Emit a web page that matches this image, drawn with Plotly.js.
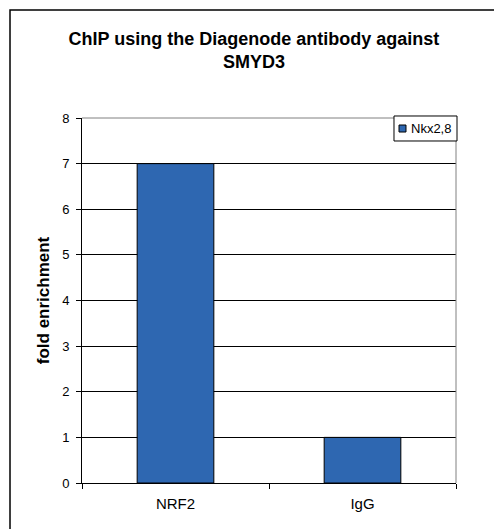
<!DOCTYPE html>
<html>
<head>
<meta charset="utf-8">
<script src="https://cdn.plot.ly/plotly-3.0.1.min.js"></script>
<style>
html,body{margin:0;padding:0;background:#fff;}
#chart{width:494px;height:529px;}
</style>
</head>
<body>
<div id="chart"></div>
<script>
const categories = ["NRF2", "IgG"];
const seriesName = "Nkx2,8";
const values = [7, 1];
const yTicks = [0, 1, 2, 3, 4, 5, 6, 7, 8];

const FONT = "Liberation Sans, Arial, sans-serif";
const BAR_COLOR = "#2e67b1";

const trace = {
  type: "bar",
  x: categories,
  y: values,
  name: seriesName,
  marker: {color: BAR_COLOR, line: {color: "#000", width: 1}},
  showlegend: false
};

const layout = {
  width: 494,
  height: 529,
  margin: {l: 82, r: 38, t: 118, b: 46},
  paper_bgcolor: "#fff",
  plot_bgcolor: "#fff",
  font: {family: FONT, color: "#000", size: 13},
  bargap: 0.59,
  showlegend: false,
  title: {
    text: "<b>ChIP using the Diagenode antibody against<br>SMYD3</b>",
    font: {family: FONT, size: 18, color: "#000"},
    x: 0.514,
    xref: "container",
    xanchor: "center",
    y: 0.915,
    yref: "container",
    yanchor: "middle"
  },
  xaxis: {
    type: "category",
    showline: true,
    linecolor: "#000",
    linewidth: 1,
    ticks: "outside",
    tickson: "boundaries",
    ticklen: 5,
    tickcolor: "#000",
    showgrid: false,
    zeroline: false,
    ticklabelstandoff: 7,
    tickfont: {family: FONT, size: 15, color: "#000"}
  },
  yaxis: {
    range: [0, 8],
    tickvals: yTicks,
    showline: true,
    linecolor: "#000",
    linewidth: 1,
    ticks: "outside",
    ticklen: 5,
    tickcolor: "#000",
    showgrid: true,
    gridcolor: "#000",
    gridwidth: 1,
    zeroline: false,
    ticklabelstandoff: 4,
    tickfont: {family: FONT, size: 13, color: "#000"},
    title: {text: "<b>fold enrichment</b>", font: {family: FONT, size: 17, color: "#000"}, standoff: 8}
  },
  annotations: [
    {
      text: seriesName,
      xref: "paper", yref: "paper",
      x: 0.874, y: 0.971,
      xanchor: "left", yanchor: "middle",
      showarrow: false,
      font: {family: FONT, size: 13, color: "#000"}
    }
  ],
  shapes: [
    {type: "line", xref: "paper", yref: "paper", x0: 0, x1: 1, y0: 1, y1: 1, line: {color: "#808080", width: 1}, layer: "above"},
    {type: "line", xref: "paper", yref: "paper", x0: 1, x1: 1, y0: 0, y1: 1, line: {color: "#808080", width: 1}, layer: "above"},
    {type: "rect", xref: "paper", yref: "paper", x0: 0.8342, x1: 1.0027, y0: 0.937, y1: 1.0055, line: {color: "#000", width: 1}, fillcolor: "#fff", layer: "above"},
    {type: "rect", xref: "paper", yref: "paper", x0: 0.8476, x1: 0.8663, y0: 0.9616, y1: 0.9808, line: {color: "#000", width: 1}, fillcolor: BAR_COLOR, layer: "above"},
    {type: "rect", xref: "paper", yref: "paper", x0: -0.1925, x1: 1.12, y0: -0.15, y1: 1.2959, line: {color: "#000", width: 1.5}, fillcolor: "rgba(0,0,0,0)", layer: "above"}
  ]
};

Plotly.newPlot("chart", [trace], layout, {displayModeBar: false, staticPlot: true});
</script>
</body>
</html>
